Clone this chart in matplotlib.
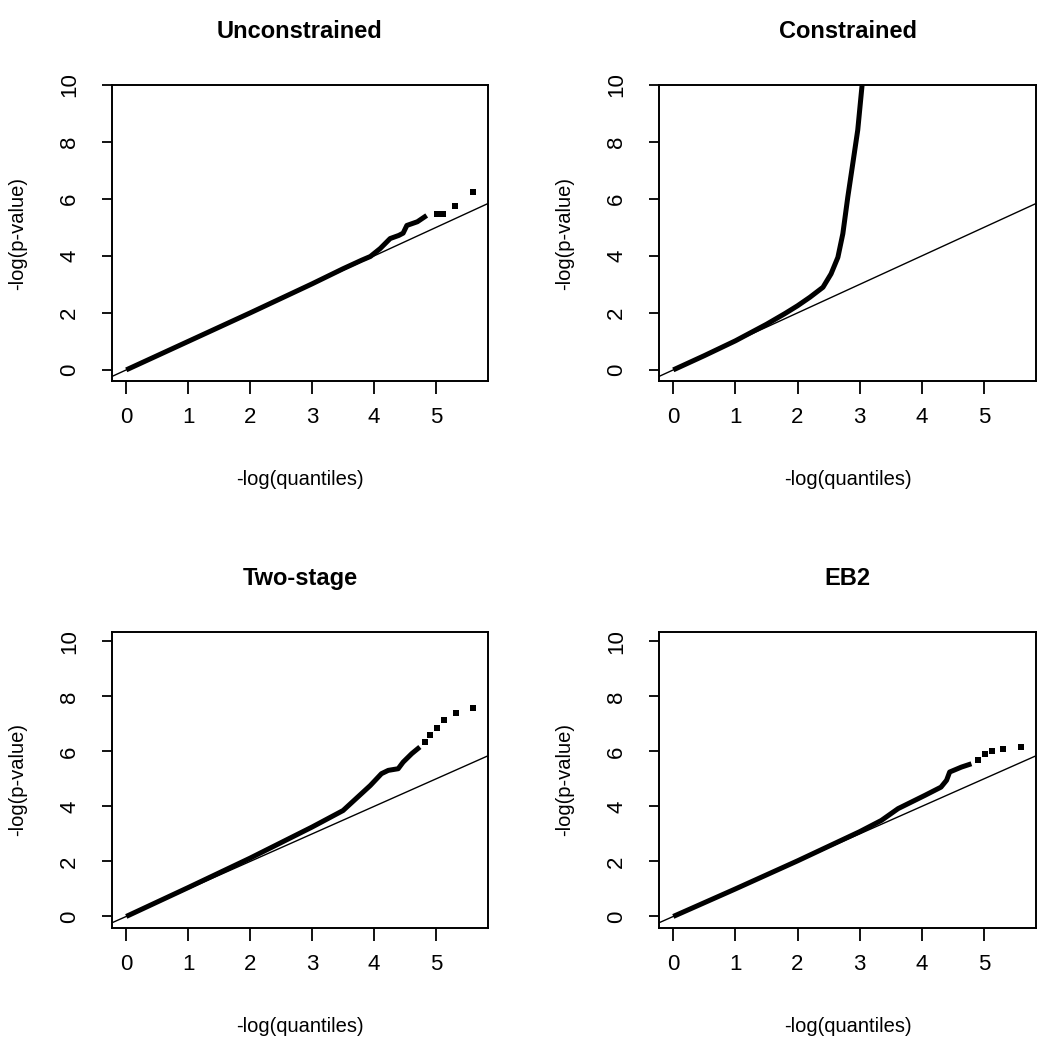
import matplotlib
matplotlib.use('Agg')
from matplotlib import pyplot as plt

plt.rcParams['font.family'] = ['Liberation Sans', 'DejaVu Sans']

titles = ['Unconstrained', 'Constrained', 'Two-stage', 'EB2']

# dense part of each QQ curve
unc_x = [0.0, 1.0, 2.0, 3.0, 3.5, 3.8, 3.94, 4.1, 4.26, 4.4, 4.47, 4.53, 4.7, 4.85]
unc_y = [0.0, 1.0, 2.0, 3.02, 3.55, 3.85, 3.98, 4.26, 4.61, 4.72, 4.8, 5.07, 5.2, 5.42]
# sparse tail points
unc_px = [5.01, 5.12, 5.31, 5.60]
unc_py = [5.48, 5.48, 5.77, 6.24]

con_x = [0.0, 0.5, 1.0, 1.5, 1.8, 2.0, 2.2, 2.41, 2.54, 2.65, 2.73, 2.81, 2.89, 2.97, 3.04, 3.1]
con_y = [0.0, 0.5, 1.02, 1.6, 1.98, 2.25, 2.55, 2.90, 3.37, 3.95, 4.78, 6.07, 7.24, 8.42, 10.0, 11.0]
con_px = []
con_py = []

two_x = [0.0, 1.0, 2.0, 3.0, 3.5, 3.94, 4.12, 4.23, 4.39, 4.47, 4.61, 4.74]
two_y = [0.0, 1.05, 2.12, 3.25, 3.85, 4.76, 5.19, 5.31, 5.37, 5.61, 5.92, 6.16]
two_px = [4.82, 4.90, 5.01, 5.13, 5.32, 5.60]
two_py = [6.34, 6.58, 6.86, 7.15, 7.39, 7.59]

eb2_x = [0.0, 1.0, 2.0, 3.0, 3.35, 3.62, 4.05, 4.31, 4.40, 4.45, 4.64, 4.80]
eb2_y = [0.0, 1.0, 2.02, 3.08, 3.49, 3.92, 4.40, 4.70, 4.95, 5.25, 5.43, 5.55]
eb2_px = [4.91, 5.02, 5.13, 5.31, 5.60]
eb2_py = [5.67, 5.92, 6.00, 6.10, 6.16]

curves = [(unc_x, unc_y, unc_px, unc_py),
          (con_x, con_y, con_px, con_py),
          (two_x, two_y, two_px, two_py),
          (eb2_x, eb2_y, eb2_px, eb2_py)]

xticks = [0, 1, 2, 3, 4, 5]
yticks = [0, 2, 4, 6, 8, 10]

fig = plt.figure(figsize=(10.46, 10.5), dpi=100)

W, H = 1046.0, 1050.0
# axes boxes in pixels: left, top, right, bottom
boxes = [(112, 85, 488, 381), (659, 85, 1036, 381),
         (112, 632, 488, 928), (659, 632, 1036, 928)]
ylims = [(-0.39, 10.0), (-0.39, 10.0), (-0.42, 10.34), (-0.42, 10.34)]

for i, (l, t, r, b) in enumerate(boxes):
    ax = fig.add_axes([l / W, 1 - b / H, (r - l) / W, (b - t) / H])
    cx, cy, px, py = curves[i]
    ax.set_xlim(-0.23, 5.84)
    ax.set_ylim(*ylims[i])
    # reference line y = x
    ax.plot([-1, 7], [-1, 7], color='black', lw=1.0)
    ax.plot(cx, cy, color='black', lw=3.6, solid_capstyle='butt')
    if px:
        ax.plot(px, py, 's', color='black', ms=4, mew=0)

    ax.set_title(titles[i], fontsize=17, fontweight='bold', pad=34)
    ax.set_xticks(xticks)
    ax.set_yticks(yticks)
    ax.tick_params(axis='x', length=9, width=1.3, labelsize=16, pad=10)
    ax.tick_params(axis='y', length=7, width=1.3, labelsize=16, pad=16,
                   labelrotation=90)
    for lab in ax.get_yticklabels():
        lab.set_va('center')
    ax.set_xlabel('-log(quantiles)', fontsize=14.5)
    ax.set_ylabel('-log(p-value)', fontsize=14.5)
    ax.xaxis.set_label_coords(0.5, -0.30)
    ax.yaxis.set_label_coords(-0.225, 0.5)
    for s in ax.spines.values():
        s.set_linewidth(1.4)

fig.savefig('out.png', dpi=100)
